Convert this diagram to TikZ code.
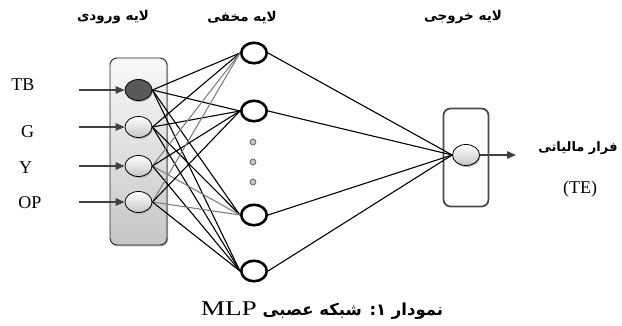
\documentclass[tikz,border=0pt]{standalone}
\usepackage{fontspec}
\setmainfont{Liberation Serif}
\newfontfamily\fa[Script=Arabic]{DejaVu Sans}
\newfontfamily\capfont[FakeStretch=1.3]{Liberation Serif}
\TeXXeTstate=1
\usetikzlibrary{arrows.meta,shadows,shapes.geometric}
\begin{document}
\begin{tikzpicture}[x=1pt,y=-1pt,
  inbox/.style={draw=black!85, line width=0.9pt, rounded corners=7pt, top color=gray!5, bottom color=gray!45, drop shadow={shadow xshift=1.2pt, shadow yshift=-1.5pt, fill=gray!60, opacity=1}, minimum width=57pt, minimum height=187pt, inner sep=0},
  outbox/.style={draw=black!70, line width=1.8pt, rounded corners=7pt, fill=white, minimum width=45pt, minimum height=98pt, inner sep=0},
  inneuron/.style={ellipse, draw=black, line width=0.8pt, minimum width=27pt, minimum height=21pt, inner sep=0, top color=white, bottom color=gray!45, drop shadow={shadow xshift=0.8pt, shadow yshift=-1.5pt, fill=gray!60, opacity=1}},
  darkneuron/.style={inneuron, top color=black!65, bottom color=black!65},
  hidneuron/.style={ellipse, draw=black, line width=2.6pt, fill=white, minimum width=25.5pt, minimum height=20.5pt, inner sep=0},
  dotn/.style={circle, draw=black!70, fill=gray!45, line width=0.6pt, minimum size=6pt, inner sep=0},
  feed/.style={draw=black!75, line width=1.3pt, -{Triangle[length=9pt,width=7.5pt]}},
  conn/.style={line width=1.1pt, draw=black},
  gconn/.style={line width=1.1pt, draw=black!50},
  lab/.style={font=\fontsize{18}{18}\selectfont, anchor=base, inner sep=0},
  head/.style={font=\fa\bfseries\fontsize{13.5}{15}\selectfont, inner sep=0},
]
\useasboundingbox (0,0) rectangle (622,326);

% boxes
\node[inbox] (ibox) at (138.5,151.5) {};
\node[outbox] (obox) at (466,157.5) {};

% input neurons
\node[darkneuron] (i1) at (138.5,90) {};
\node[inneuron] (i2) at (138.5,127) {};
\node[inneuron] (i3) at (138.5,166) {};
\node[inneuron] (i4) at (138.5,202) {};

% hidden neurons
\node[hidneuron] (h1) at (254,53) {};
\node[hidneuron] (h2) at (254,111) {};
\node[hidneuron] (h3) at (254,215) {};
\node[hidneuron] (h4) at (254,271) {};
\node[dotn] (d1) at (253,142) {};
\node[dotn] (d2) at (253,162) {};
\node[dotn] (d3) at (253,182) {};

% output neuron
\node[inneuron] (o) at (466,155) {};

% connections input -> hidden
\foreach \i in {1,2}{
  \foreach \h in {1,2,3,4}{
    \draw[conn] (i\i.east) -- (h\h.west);
  }
}
\foreach \i in {3,4}{
  \draw[gconn] (i\i.east) -- (h1.west);
  \draw[conn] (i\i.east) -- (h2.west);
  \draw[gconn] (i\i.east) -- (h3.west);
  \draw[conn] (i\i.east) -- (h4.west);
}
% hidden -> output
\foreach \h in {1,2,3,4}{
  \draw[conn] (h\h.east) -- (o.west);
}

% input arrows
\coordinate (s1) at (79,90);
\coordinate (s2) at (79,127);
\coordinate (s3) at (79,166);
\coordinate (s4) at (79,202);
\foreach \k in {1,2,3,4}{
  \draw[feed] (s\k) -- (i\k);
}
% output arrow
\coordinate (t) at (516,155);
\draw[feed] (o) -- (t);

% labels
\node[lab] (lTB) at (23,91) {TB};
\node[lab] (lG) at (27.5,138) {G};
\node[lab] (lY) at (25.5,174) {Y};
\node[lab] (lOP) at (30,209) {OP};
\node[lab] (lTE) at (580,194) {(TE)};
\node[head, font=\fa\bfseries\fontsize{13}{15}\selectfont] (lout) at (578,148) {\beginR فرار مالیاتی\endR};

\node[head] (hin) at (113,17) {\beginR لایه ورودی\endR};
\node[head] (hhid) at (242,17) {\beginR لایه مخفی\endR};
\node[head] (hout) at (463,17) {\beginR لایه خروجی\endR};

\node[inner sep=0] (cap) at (322,311) {\fa\bfseries\fontsize{16.5}{18}\selectfont\beginR نمودار ۱: شبکه عصبی {\capfont\mdseries\fontsize{21}{21}\selectfont\beginL MLP\endL}\endR};
\end{tikzpicture}
\end{document}
